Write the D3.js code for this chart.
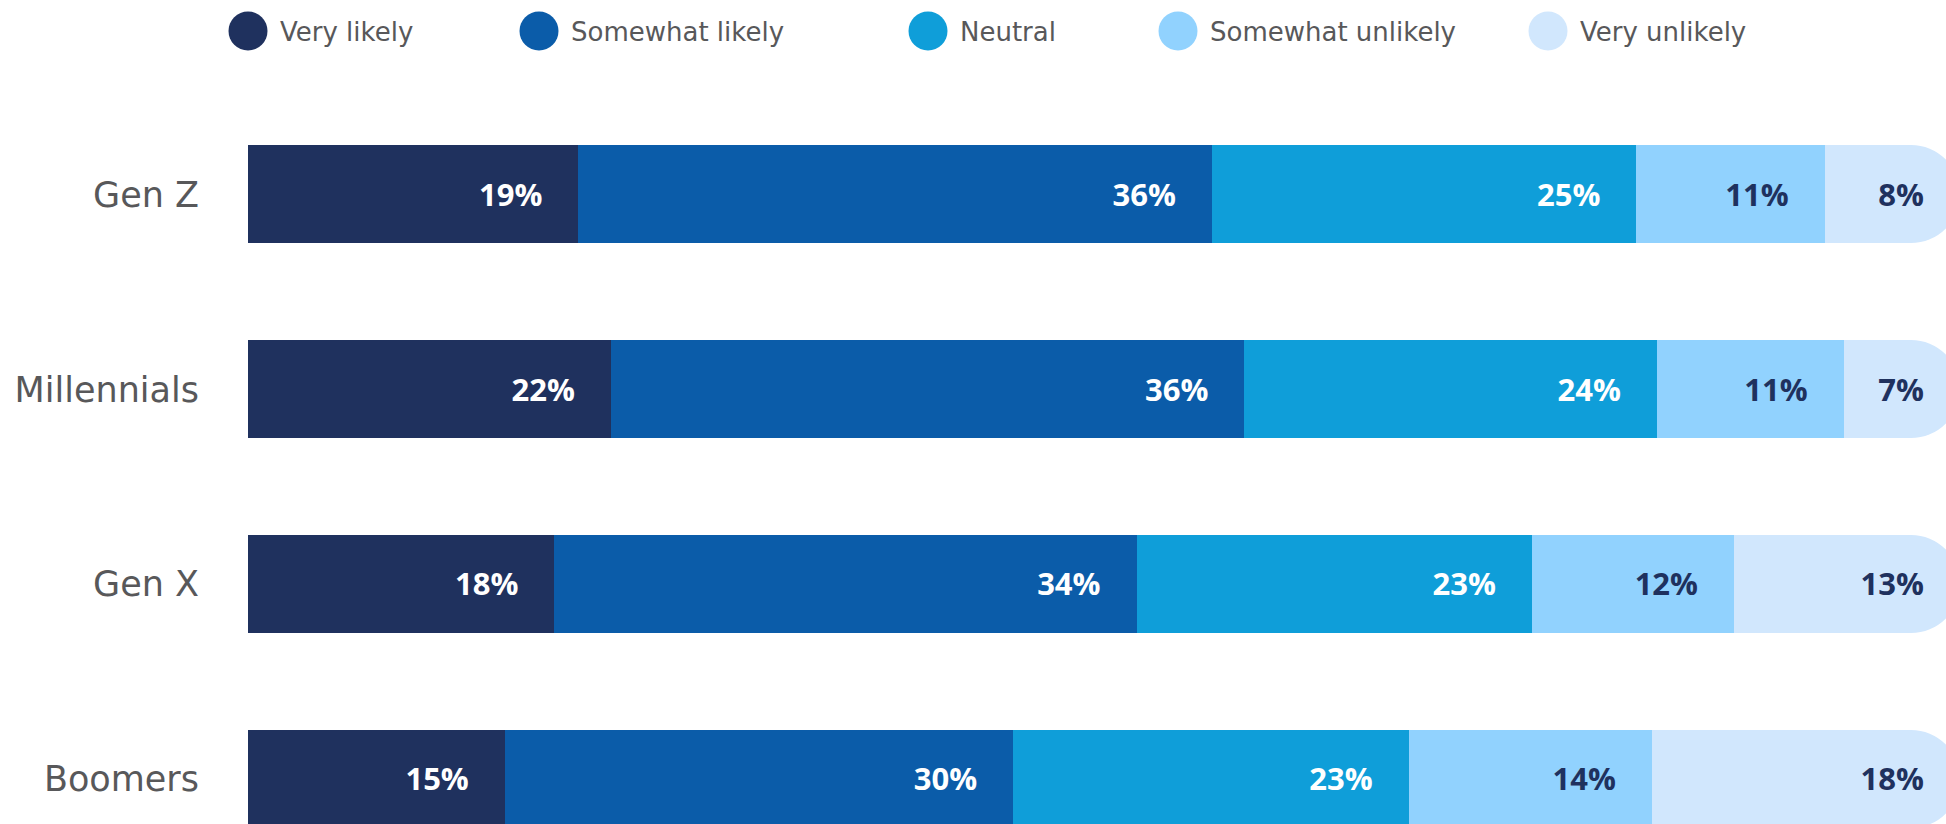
<!DOCTYPE html>
<html>
<head>
<meta charset="utf-8">
<script src="https://cdn.jsdelivr.net/npm/d3@7"></script>
<style>
    html, body { margin: 0; padding: 0; background: #ffffff; overflow: hidden; }
    .cat-label { font-family: "DejaVu Sans", sans-serif; font-size: 35px; fill: #58585a; }
    .legend-label { font-family: "DejaVu Sans", sans-serif; font-size: 26px; fill: #58585a; }
    .value-label { font-family: "Open Sans", sans-serif; font-size: 31px; font-weight: 700; }
</style>
</head>
<body>
<div id="chart"></div>
<script>
// Categories (rows) and answer options (series)
const categories = ['Gen Z', 'Millennials', 'Gen X', 'Boomers'];
const seriesNames = ['Very likely', 'Somewhat likely', 'Neutral', 'Somewhat unlikely', 'Very unlikely'];

// Shares in %
const veryLikely       = [19.3, 21.2, 17.9, 15.0];
const somewhatLikely   = [37.0, 37.0, 34.0, 29.7];
const neutral          = [24.8, 24.1, 23.1, 23.1];
const somewhatUnlikely = [11.0, 10.9, 11.8, 14.2];
const veryUnlikely     = [7.9, 6.8, 13.2, 18.0];

// Printed labels as they appear on the bars
const veryLikelyLabels       = ['19%', '22%', '18%', '15%'];
const somewhatLikelyLabels   = ['36%', '36%', '34%', '30%'];
const neutralLabels          = ['25%', '24%', '23%', '23%'];
const somewhatUnlikelyLabels = ['11%', '11%', '12%', '14%'];
const veryUnlikelyLabels     = ['8%', '7%', '13%', '18%'];

const seriesColors = ['#1f315e', '#0b5ca9', '#0f9ed9', '#91d2fe', '#d1e7fd'];
const labelColors  = ['#ffffff', '#ffffff', '#ffffff', '#1f315e', '#1f315e'];

const width = 1946;
const height = 824;

// build the table d3.stack wants
const seriesValues = [veryLikely, somewhatLikely, neutral, somewhatUnlikely, veryUnlikely];
const seriesLabels = [veryLikelyLabels, somewhatLikelyLabels, neutralLabels, somewhatUnlikelyLabels, veryUnlikelyLabels];
const table = categories.map((c, i) => {
    const row = { category: c };
    seriesNames.forEach((s, j) => row[s] = seriesValues[j][i]);
    return row;
});
const stacked = d3.stack().keys(seriesNames)(table);

const svg = d3.select('#chart')
    .append('svg')
    .attr('width', width)
    .attr('height', height);

// Scales
const xScale = d3.scaleLinear()
    .domain([0, 100])
    .range([248, 1960]);

const yScale = d3.scaleBand()
    .domain(categories)
    .range([145, 828])
    .paddingInner(0.497)
    .paddingOuter(0);

const bh = yScale.bandwidth();

// rect with rounded right side (last segment only)
function segPath(x0, x1, y, h, rounded) {
    if (!rounded) return `M${x0},${y}H${x1}V${y + h}H${x0}Z`;
    const r = Math.min(h / 2, x1 - x0);
    return `M${x0},${y}H${x1 - r}A${r},${r} 0 0 1 ${x1},${y + r}V${y + h - r}A${r},${r} 0 0 1 ${x1 - r},${y + h}H${x0}Z`;
}

const groups = svg.selectAll('g.series')
    .data(stacked)
    .join('g')
    .attr('class', 'series')
    .attr('fill', (d, i) => seriesColors[i]);

const last = seriesNames.length - 1;

groups.selectAll('path')
    .data(d => d.map(p => ({ p, key: d.key, index: d.index })))
    .join('path')
    .attr('shape-rendering', d => d.index === last ? 'auto' : 'crispEdges')
    .attr('d', d => segPath(
        Math.round(xScale(d.p[0])), Math.round(xScale(d.p[1])),
        yScale(d.p.data.category), bh,
        d.index === last));

// value labels, right aligned inside each segment
groups.selectAll('text')
    .data(d => d.map((p, i) => ({ p, index: d.index, label: seriesLabels[d.index][i] })))
    .join('text')
    .attr('class', 'value-label')
    .attr('x', d => xScale(d.p[1]) - 36)
    .attr('y', d => yScale(d.p.data.category) + bh / 2 + 11.5)
    .attr('text-anchor', 'end')
    .attr('fill', d => labelColors[d.index])
    .text(d => d.label);

// category labels on the left
svg.append('g')
    .selectAll('text')
    .data(categories)
    .join('text')
    .attr('class', 'cat-label')
    .attr('x', 199)
    .attr('y', d => yScale(d) + bh / 2 + 12.5)
    .attr('text-anchor', 'end')
    .text(d => d);

// Legend at top
const legendX = [248, 539, 928, 1178, 1548];
const legend = svg.append('g')
    .selectAll('g')
    .data(seriesNames)
    .join('g')
    .attr('transform', (d, i) => `translate(${legendX[i]}, 31)`);

legend.append('circle')
    .attr('r', 19.5)
    .attr('fill', (d, i) => seriesColors[i]);

legend.append('text')
    .attr('class', 'legend-label')
    .attr('x', 32)
    .attr('y', 9.5)
    .text(d => d);
</script>
</body>
</html>
